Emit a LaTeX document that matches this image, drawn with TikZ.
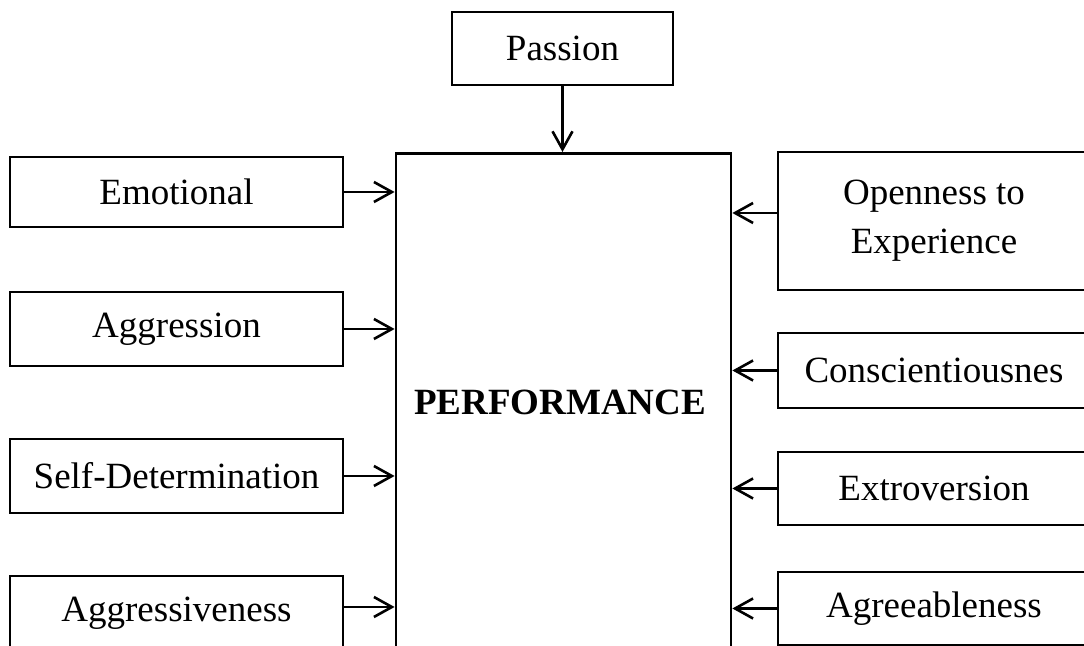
\documentclass[tikz,border=0pt]{standalone}
\usepackage{fontspec}
\setmainfont{Liberation Serif}
\usetikzlibrary{arrows.meta,positioning}

\begin{document}
\begin{tikzpicture}[
    x=0.5pt, y=-0.5pt,
    box/.style={rectangle, draw, line width=1.4pt, align=center, inner sep=0pt,
                font=\fontsize{18.5}{26.5}\selectfont},
    leftbox/.style={box, minimum width=166.5pt},
    rightbox/.style={box, minimum width=156pt},
    arrow/.style={-{Straight Barb[length=9pt,width=10pt]}, line width=1.3pt}
  ]
  \useasboundingbox (0,0) rectangle (1084,646);
  \clip (0,0) rectangle (1084,646);

  % centre block
  \node[box, anchor=north, minimum width=167.5pt, minimum height=300pt] (perf) at (563.5,152) {};
  \node[font=\fontsize{18.5}{22}\selectfont\bfseries] (perftxt) at (560,402) {PERFORMANCE};
  \node[box, minimum width=110.5pt, minimum height=36.5pt] (pass) at (562.5,48.5) {Passion};

  % left side
  \node[leftbox, minimum height=35pt] (emo) at (176.5,192) {Emotional};
  \node[leftbox, minimum height=37pt] (aggr) at (176.5,329) {Aggression};
  \node[leftbox, minimum height=37pt] (selfdet) at (176.5,476) {Self-Determination};
  \node[leftbox, minimum height=37pt] (aggv) at (176.5,613) {Aggressiveness};

  % right side
  \node[rightbox, minimum height=69pt] (open) at (934,221) {Openness to\\[-2pt]Experience};
  \node[rightbox, minimum height=37.5pt] (consc) at (934,370.5) {Conscientiousnes};
  \node[rightbox, minimum height=36.5pt] (extro) at (934,488.5) {Extroversion};
  \node[rightbox, minimum height=36.5pt] (agree) at (934,608.5) {Agreeableness};

  \draw[arrow] (pass.south) -- (pass.south |- perf.north);
  \draw[arrow] (emo.east) -- (emo.east -| perf.west);
  \draw[arrow] (aggr.east) -- (aggr.east -| perf.west);
  \draw[arrow] (selfdet.east) -- (selfdet.east -| perf.west);
  \draw[arrow] ([yshift=3pt]aggv.east) -- ([yshift=3pt]aggv.east -| perf.west);
  \draw[arrow] ([yshift=4pt]open.west) -- ([yshift=4pt]open.west -| perf.east);
  \draw[arrow] (consc.west) -- (consc.west -| perf.east);
  \draw[arrow] (extro.west) -- (extro.west -| perf.east);
  \draw[arrow] (agree.west) -- (agree.west -| perf.east);
\end{tikzpicture}
\end{document}
